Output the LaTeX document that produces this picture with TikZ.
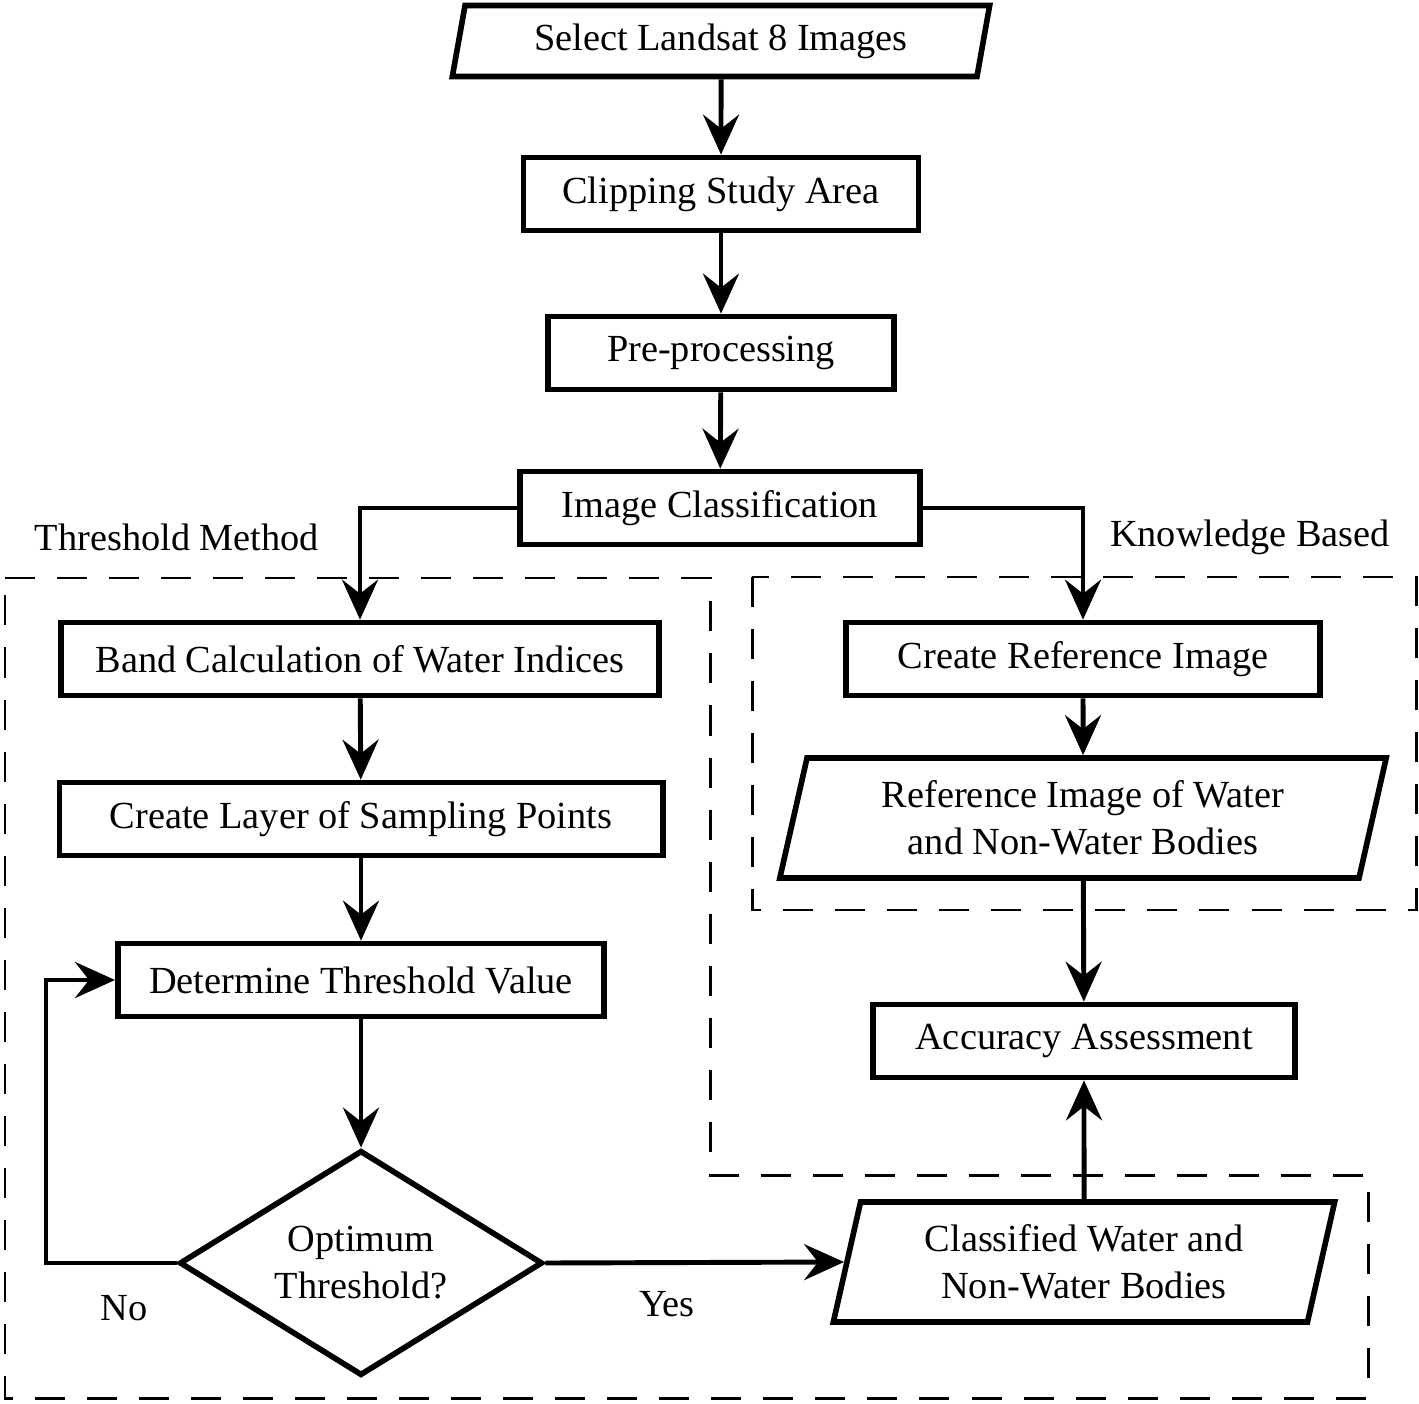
\documentclass[tikz,border=0pt]{standalone}
\usepackage{fontspec}
\setmainfont{Liberation Serif}
\usetikzlibrary{shapes.geometric, arrows.meta}

\begin{document}
\begin{tikzpicture}[x = 0.01cm, y = -0.01cm,
        font = \fontsize{10.9}{13.4}\selectfont,
        process/.style = {draw, line width = 1.6pt, inner sep = 0pt, minimum height = 0.73cm},
        data/.style = {draw, line width = 1.6pt, trapezium, trapezium left angle = 70, trapezium right angle = 110,
            trapezium stretches body, inner sep = 0pt, align = center},
        decision/.style = {draw, line width = 1.6pt, diamond, aspect = 1.6, inner sep = 0pt, align = center},
        flow/.style = {line width = 1.4pt, -{Stealth[length = 0.4cm, width = 0.36cm, inset = 0.14cm]}},
        group/.style = {line width = 0.85pt, dash pattern = on 0.3cm off 0.22cm}]
        \useasboundingbox (0, 0) rectangle (1419, 1404);
        \draw [group] (5, 578) -- (710, 578) -- (710, 1175) -- (1368, 1175) -- (1368, 1398) -- (5, 1398) -- cycle;
        \draw [group] (752, 577) rectangle (1416, 910);
        \node [data, minimum width = 5.37cm, minimum height = 0.71cm] (select) at (721, 41) {Select Landsat 8 Images};
        \node [process, minimum width = 3.95cm] (clip) at (721, 194) {Clipping Study Area};
        \node [process, minimum width = 3.46cm] (prep) at (721, 353) {Pre-processing};
        \node [process, minimum width = 4cm] (classif) at (720, 508) {Image Classification};
        \node [process, minimum width = 5.98cm] (band) at (360, 659) {Band Calculation of Water Indices};
        \node [process, minimum width = 6.03cm] (layer) at (361, 819) {Create Layer of Sampling Points};
        \node [process, minimum width = 4.86cm] (thresh) at (361, 980) {Determine Threshold Value};
        \node [decision, minimum width = 3.63cm, minimum height = 2.25cm] (optimum) at (361, 1263) {Optimum\\Threshold?};
        \node [process, minimum width = 4.74cm] (createref) at (1083, 659) {Create Reference Image};
        \node [data, minimum width = 6.06cm, minimum height = 1.2cm] (refimg) at (1083, 818) {Reference Image of Water\\and Non-Water Bodies};
        \node [process, minimum width = 4.22cm] (accuracy) at (1084, 1041) {Accuracy Assessment};
        \node [data, minimum width = 5.01cm, minimum height = 1.2cm] (classified) at (1084, 1262) {Classified Water and\\Non-Water Bodies};
        \node (threshlabel) at (177, 537) {Threshold Method};
        \node (knowlabel) at (1250, 537) {Knowledge Based};
        \node (nolabel) at (124, 1308) {No};
        \node (yeslabel) at (667, 1304) {Yes};
        \coordinate (noturn) at (46, 1263);
        \draw [flow] (select) -- (clip);
        \draw [flow] (clip) -- (prep);
        \draw [flow] (prep) -- (classif);
        \draw [flow] (classif.west) -| (band.north);
        \draw [flow] (classif.east) -| (createref.north);
        \draw [flow] (band) -- (layer);
        \draw [flow] (layer) -- (thresh);
        \draw [flow] (thresh) -- (optimum);
        \draw [flow] (optimum.west) -- (noturn) |- (thresh.west);
        \draw [flow] (optimum.east) -- (classified.west);
        \draw [flow] (createref) -- (refimg);
        \draw [flow] (refimg) -- (accuracy);
        \draw [flow] (classified) -- (accuracy);
\end{tikzpicture}
\end{document}
